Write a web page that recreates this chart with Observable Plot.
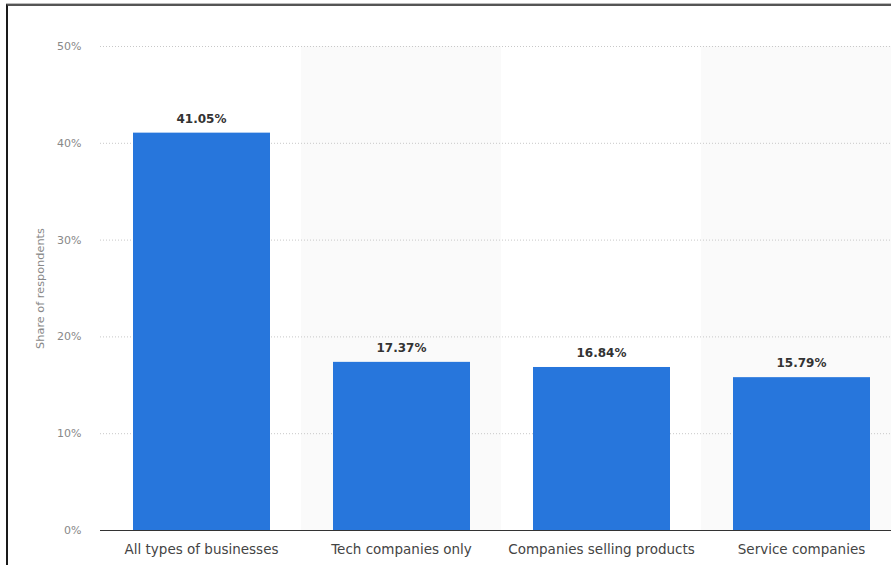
<!DOCTYPE html>
<html>
<head>
<meta charset="utf-8">
<script src="https://cdn.jsdelivr.net/npm/d3@7"></script>
<script src="https://cdn.jsdelivr.net/npm/@observablehq/plot@0.6"></script>
<style>
  html, body { margin: 0; padding: 0; background: #fff; overflow: hidden; width: 891px; height: 565px; }
  #chart { position: absolute; left: 0; top: 0; width: 901px; }
  #chart svg { max-width: none !important; }
  #frame { position: absolute; left: 6px; top: 4px; width: 900px; height: 600px;
           border-left: 2px solid #1a1a1a; border-top: 2px solid #555; pointer-events: none; }
  #topline { position: absolute; left: 6px; top: 3px; width: 900px; height: 1px; background: #bbb; }
</style>
</head>
<body>
<div id="chart"></div>
<div id="topline"></div>
<div id="frame"></div>
<script>
const categories = ["All types of businesses", "Tech companies only", "Companies selling products", "Service companies"];
const values = [41.05, 17.37, 16.84, 15.79];
const yTicks = [0, 10, 20, 30, 40, 50];
const shadedCategories = ["Tech companies only", "Service companies"];

const data = categories.map((c, i) => ({category: c, value: values[i]}));
const shaded = shadedCategories.map(c => ({category: c}));

const plot = Plot.plot({
  width: 901,
  height: 565,
  marginLeft: 100,
  marginRight: 0,
  marginTop: 46,
  marginBottom: 35,
  style: {fontFamily: "'DejaVu Sans', sans-serif", background: "transparent", maxWidth: "none"},
  x: {domain: categories, padding: 0, label: null},
  y: {domain: [0, 50], ticks: yTicks, label: null},
  marks: [
    Plot.barY(shaded, {x: "category", y1: 0, y2: 50, fill: "#fafafa"}),
    Plot.ruleY(yTicks.filter(d => d > 0), {stroke: "#c8c8c8", strokeDasharray: "1,2", strokeWidth: 1}),
    Plot.barY(data, {x: "category", y: "value", fill: "#2776dc", insetLeft: 32, insetRight: 31}),
    Plot.ruleY([0], {stroke: "#333", strokeWidth: 1.2}),
    Plot.text(data, {x: "category", y: "value", text: d => d.value.toFixed(2) + "%", dy: -14,
      fill: "#333", fontWeight: "bold", fontSize: 12}),
    Plot.axisY({ticks: yTicks, tickFormat: d => d + "%", tickSize: 0, tickPadding: 19,
      fill: "#888", fontSize: 11, label: null}),
    Plot.axisX({tickSize: 0, tickPadding: 14, fill: "#444", fontSize: 13.5, label: null}),
    Plot.text(["Share of respondents"], {frameAnchor: "left", dx: -60, rotate: -90,
      fill: "#888", fontSize: 11.3, textAnchor: "middle", y: [25]})
  ]
});
document.getElementById("chart").appendChild(plot);
</script>
</body>
</html>
